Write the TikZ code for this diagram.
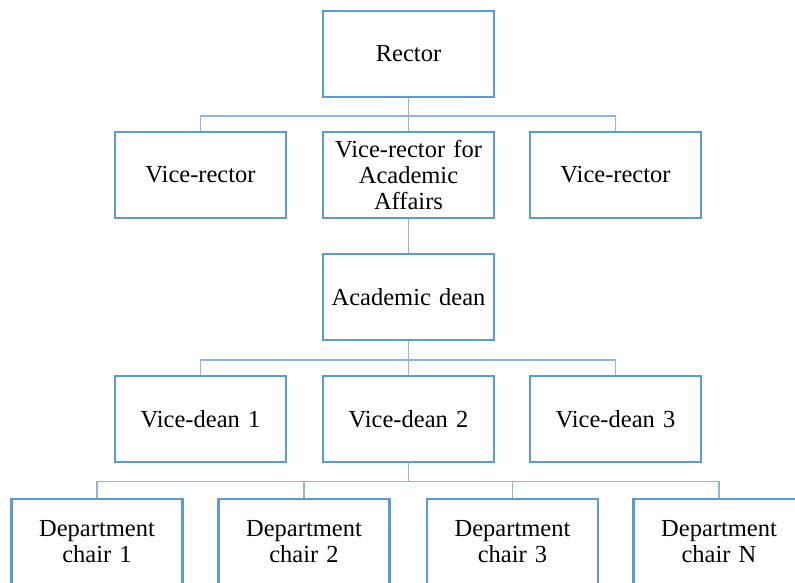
\documentclass[tikz,border=0pt]{standalone}
\usepackage{fontspec}
\setmainfont{Liberation Serif}
\definecolor{boxblue}{HTML}{5B9BD5}
\definecolor{lineblue}{HTML}{8EB4E3}
\begin{document}
\begin{tikzpicture}[x=1pt,y=-1pt,
  orgbox/.style={draw=boxblue, line width=2.2pt, fill=white, minimum width=171pt, minimum height=86pt,
    text width=165pt, align=center, inner sep=0pt, font=\fontsize{24.5}{26}\selectfont},
  conn/.style={draw=lineblue, line width=1.3pt}]
\useasboundingbox (0,0) rectangle (795,583);
\clip (0,0) rectangle (795,583);
\fill[white] (0,0) rectangle (795,583);
% nodes
\node[orgbox] (rector) at (408.5,54) {Rector};
\node[orgbox] (vr1) at (200.5,175) {Vice-rector};
\node[orgbox] (vra) at (408.5,175) {Vice-rector for\\Academic\\Affairs};
\node[orgbox] (vr2) at (615.5,175) {Vice-rector};
\node[orgbox] (dean) at (408.5,297) {Academic dean};
\node[orgbox] (vd1) at (200.5,418.7) {Vice-dean 1};
\node[orgbox] (vd2) at (408.5,418.7) {Vice-dean 2};
\node[orgbox] (vd3) at (615.5,418.7) {Vice-dean 3};
\node[orgbox] (dc1) at (97,542) {Department\\chair 1};
\node[orgbox] (dc2) at (304,542) {Department\\chair 2};
\node[orgbox] (dc3) at (512.5,542) {Department\\chair 3};
\node[orgbox] (dcn) at (719,542) {Department\\chair N};
% connectors
\draw[conn] (rector.south) -- ++(0,18) -| (vr1.north);
\draw[conn] (rector.south) -- ++(0,18) -| (vr2.north);
\draw[conn] (rector.south) -- (vra.north);
\draw[conn] (vra.south) -- (dean.north);
\draw[conn] (dean.south) -- ++(0,19) -| (vd1.north);
\draw[conn] (dean.south) -- ++(0,19) -| (vd3.north);
\draw[conn] (dean.south) -- (vd2.north);
\draw[conn] (vd2.south) -- ++(0,19) -| (dc1.north);
\draw[conn] (vd2.south) -- ++(0,19) -| (dc2.north);
\draw[conn] (vd2.south) -- ++(0,19) -| (dc3.north);
\draw[conn] (vd2.south) -- ++(0,19) -| (dcn.north);
\end{tikzpicture}
\end{document}
